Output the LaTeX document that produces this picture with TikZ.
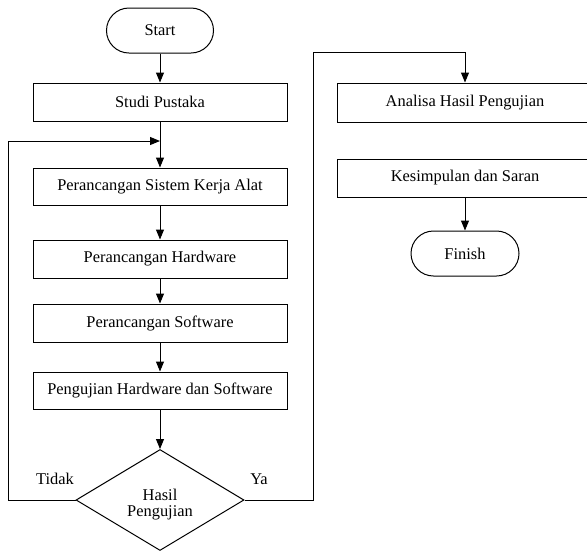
\documentclass[tikz,border=0pt]{standalone}
\usepackage{fontspec}
\setmainfont{Liberation Serif}
\usetikzlibrary{shapes.geometric,arrows.meta}
\begin{document}
\begin{tikzpicture}[x=1pt,y=-1pt,
  every node/.style={font=\fontsize{16.4}{19}\selectfont},
  arr/.style={line width=1pt,-{Triangle[length=10pt,width=8pt]}},
  procbox/.style={draw,line width=1pt,rectangle,inner sep=0pt,minimum width=254pt,minimum height=38pt},
  terminal/.style={draw,line width=1pt,rectangle,rounded corners=22.5pt,inner sep=0pt,minimum width=107pt,minimum height=45pt},
  decision/.style={draw,line width=1pt,diamond,aspect=1.663,inner sep=0pt,minimum width=168pt,minimum height=101pt}
]
\useasboundingbox (0,0) rectangle (587,550);
\clip (0,0) rectangle (587,550.5);
\node[terminal] (start) at (160,30.5) {Start};
\node[procbox] (studi) at (160,102) {Studi Pustaka};
\node[procbox,minimum height=37pt] (psk) at (160,186.5) {Perancangan Sistem Kerja Alat};
\node[procbox] (ph) at (160,259) {Perancangan Hardware};
\node[procbox] (ps) at (160,323) {Perancangan Software};
\node[procbox,minimum height=37pt] (phs) at (160,390.5) {Pengujian Hardware dan Software};
\node[decision] (dia) at (160,500) {};
\node[align=center] (diatext) at (160,505) {Hasil\\[-3pt]Pengujian};
\node[procbox,minimum width=256pt,minimum height=39pt] (analisa) at (465,102.5) {Analisa Hasil Pengujian};
\node[procbox,minimum width=256pt] (kes) at (465,178) {Kesimpulan dan Saran};
\node[terminal,minimum width=108pt] (finish) at (465,253.5) {Finish};
\node (tidak) at (55,479) {Tidak};
\node (ya) at (259,479) {Ya};
\coordinate (loopin) at (160,141);
\coordinate (tl) at (8,141);
\coordinate (tr) at (313,52);
\draw[arr] (start) -- (studi);
\draw[arr] (studi) -- (psk);
\draw[arr] (psk) -- (ph);
\draw[arr] (ph) -- (ps);
\draw[arr] (ps) -- (phs);
\draw[arr] (phs) -- (dia);
\draw[arr] (dia.west) -| (tl) -- (loopin);
\draw[arr] (dia.east) -| (tr) -| (analisa.north);
\draw[arr] (kes) -- (finish);
\end{tikzpicture}
\end{document}
